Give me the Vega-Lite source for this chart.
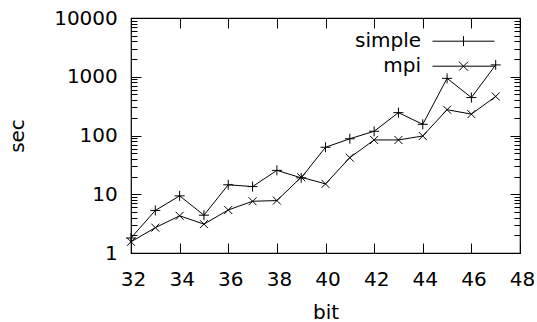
{
  "$schema": "https://vega.github.io/schema/vega-lite/v6.json",
  "width": 389,
  "height": 235,
  "autosize": {"type": "none"},
  "padding": {"left": 131, "top": 18, "right": 17, "bottom": 69},
  "background": "white",
  "config": {
    "view": {"stroke": "black", "strokeWidth": 1.2},
    "font": "DejaVu Sans",
    "axis": {
      "labelFont": "DejaVu Sans",
      "titleFont": "DejaVu Sans",
      "labelFontSize": 20,
      "titleFontSize": 20,
      "titleFontWeight": "normal",
      "labelColor": "black",
      "titleColor": "black",
      "tickColor": "black",
      "tickWidth": 1,
      "domain": false,
      "grid": false,
      "labelOverlap": false,
      "labelFlush": false
    }
  },
  "data": {
    "values": [
      {"bit": 32, "series": "simple", "sec": 1.8},
      {"bit": 33, "series": "simple", "sec": 5.3},
      {"bit": 34, "series": "simple", "sec": 9.4},
      {"bit": 35, "series": "simple", "sec": 4.4},
      {"bit": 36, "series": "simple", "sec": 14.5},
      {"bit": 37, "series": "simple", "sec": 13.5},
      {"bit": 38, "series": "simple", "sec": 25.5},
      {"bit": 39, "series": "simple", "sec": 19},
      {"bit": 40, "series": "simple", "sec": 63},
      {"bit": 41, "series": "simple", "sec": 88},
      {"bit": 42, "series": "simple", "sec": 118},
      {"bit": 43, "series": "simple", "sec": 245},
      {"bit": 44, "series": "simple", "sec": 155},
      {"bit": 45, "series": "simple", "sec": 940},
      {"bit": 46, "series": "simple", "sec": 442},
      {"bit": 47, "series": "simple", "sec": 1590},
      {"bit": 32, "series": "mpi", "sec": 1.55},
      {"bit": 33, "series": "mpi", "sec": 2.7},
      {"bit": 34, "series": "mpi", "sec": 4.3},
      {"bit": 35, "series": "mpi", "sec": 3.1},
      {"bit": 36, "series": "mpi", "sec": 5.4},
      {"bit": 37, "series": "mpi", "sec": 7.6},
      {"bit": 38, "series": "mpi", "sec": 7.8},
      {"bit": 39, "series": "mpi", "sec": 19.5},
      {"bit": 40, "series": "mpi", "sec": 15},
      {"bit": 41, "series": "mpi", "sec": 42},
      {"bit": 42, "series": "mpi", "sec": 84},
      {"bit": 43, "series": "mpi", "sec": 84},
      {"bit": 44, "series": "mpi", "sec": 98},
      {"bit": 45, "series": "mpi", "sec": 275},
      {"bit": 46, "series": "mpi", "sec": 231},
      {"bit": 47, "series": "mpi", "sec": 462}
    ]
  },
  "layer": [
    {
      "mark": {"type": "line", "color": "black", "strokeWidth": 1},
      "encoding": {
        "x": {
          "field": "bit", "type": "quantitative",
          "scale": {"domain": [32, 48], "nice": false},
          "axis": {
            "orient": "bottom",
            "values": [32, 34, 36, 38, 40, 42, 44, 46, 48],
            "format": "d",
            "tickSize": -10,
            "labelPadding": 26.5,
            "labelOffset": 2,
            "title": "bit",
            "titleX": 194.5,
            "titleY": 65,
            "titleBaseline": "alphabetic",
            "titleAlign": "center"
          }
        },
        "y": {
          "field": "sec", "type": "quantitative",
          "scale": {"type": "log", "domain": [1, 10000], "nice": false},
          "axis": {
            "orient": "left",
            "values": [1,2,3,4,5,6,7,8,9,10,20,30,40,50,60,70,80,90,100,200,300,400,500,600,700,800,900,1000,2000,3000,4000,5000,6000,7000,8000,9000,10000],
            "format": "d",
            "labelExpr": "abs(log(datum.value)/LN10 - round(log(datum.value)/LN10)) < 0.000001 ? datum.label : ''",
            "tickSize": {"condition": {"test": "abs(log(datum.value)/LN10 - round(log(datum.value)/LN10)) < 0.000001", "value": -10}, "value": -6},
            "labelPadding": 23.7,
            "title": "sec",
            "titleX": -113.5,
            "titleY": 117.5,
            "titleAngle": -90,
            "titleBaseline": "middle",
            "titleAlign": "center"
          }
        },
        "detail": {"field": "series"}
      }
    },
    {
      "mark": {"type": "point", "filled": false, "stroke": "black", "strokeWidth": 1, "opacity": 1, "size": 100},
      "encoding": {
        "x": {
          "field": "bit", "type": "quantitative",
          "axis": {
            "orient": "top",
            "values": [32, 34, 36, 38, 40, 42, 44, 46, 48],
            "labels": false,
            "tickSize": -10,
            "title": null
          }
        },
        "y": {
          "field": "sec", "type": "quantitative",
          "axis": {
            "orient": "right",
            "values": [1,2,3,4,5,6,7,8,9,10,20,30,40,50,60,70,80,90,100,200,300,400,500,600,700,800,900,1000,2000,3000,4000,5000,6000,7000,8000,9000,10000],
            "labels": false,
            "tickSize": {"condition": {"test": "abs(log(datum.value)/LN10 - round(log(datum.value)/LN10)) < 0.000001", "value": -10}, "value": -6},
            "title": null
          }
        },
        "shape": {
          "field": "series", "type": "nominal",
          "scale": {"domain": ["simple", "mpi"], "range": ["M-1,0H1M0,-1V1", "M-0.8,-0.8L0.8,0.8M-0.8,0.8L0.8,-0.8"]},
          "legend": null
        }
      }
    },
    {
      "mark": {"type": "point", "filled": false, "stroke": "black", "opacity": 0},
      "encoding": {
        "x": {"field": "bit", "type": "quantitative", "axis": null},
        "y": {"field": "sec", "type": "quantitative", "axis": null},
        "shape": {
          "field": "series", "type": "nominal",
          "scale": {"domain": ["simple", "mpi"], "range": ["M-3.1,0H3.1M0,-0.5V0.5", "M-3.1,0H3.1M-0.45,-0.45L0.45,0.45M-0.45,0.45L0.45,-0.45"]},
          "legend": {
            "title": null,
            "orient": "none",
            "legendX": 322,
            "legendY": 12.7,
            "padding": 0,
            "symbolSize": 400,
            "symbolStrokeColor": "black",
            "symbolStrokeWidth": 1,
            "symbolFillColor": "transparent",
            "symbolOpacity": 1,
            "labelFont": "DejaVu Sans",
            "labelFontSize": 20,
            "labelColor": "black",
            "labelAlign": "right",
            "labelOffset": -53,
            "labelLimit": 0,
            "rowPadding": 4
          }
        }
      }
    }
  ],
  "resolve": {"axis": {"x": "independent", "y": "independent"}, "scale": {"shape": "independent"}}
}
